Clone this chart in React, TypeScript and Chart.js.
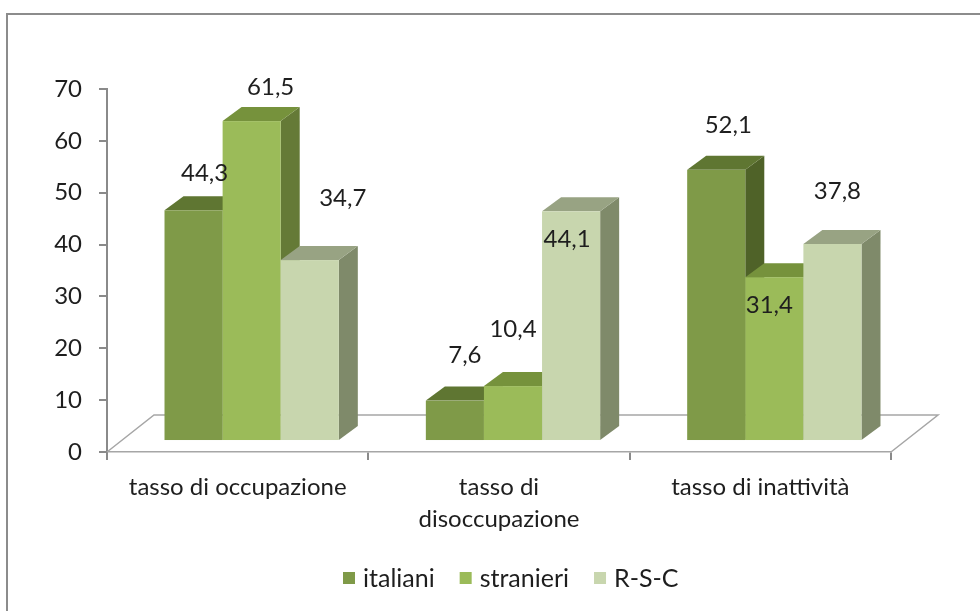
import React, { useEffect, useRef } from "react";
import { Chart, registerables } from "chart.js";

Chart.register(...registerables);

// ---- data ----
const categories: (string | string[])[] = [
  "tasso di occupazione",
  ["tasso di", "disoccupazione"],
  "tasso di inattività",
];
const seriesNames = ["italiani", "stranieri", "R-S-C"];
const italiani = [44.3, 7.6, 52.1];
const stranieri = [61.5, 10.4, 31.4];
const rsc = [34.7, 44.1, 37.8];
const yTickMin = 0;
const yTickMax = 70;
const yTickStep = 10;

// ---- style ----
const FONT = "Lato, 'Open Sans', sans-serif";
const FONT_SIZE = 24;
const LEGEND_FONT_SIZE = 25;
const TEXT = "#1e1e1e";
const AXIS = "#8a8a8a";
const frontColors = ["#7F9A48", "#9BBB59", "#C8D6AE"];
const topColors = ["#5F7632", "#76923C", "#98A383"];
const sideColors = ["#4F6228", "#657A37", "#7F8A6A"];
// label offsets (relative to bar front-face centre / top), per series per category
const labelOffsets = [
  [[11, -37], [10, -45], [12, -45]],
  [[19, -34], [0, -57], [-5, 28]],
  [[33, -62], [-4, 28], [5, -53]],
];
const DEPTH_X = 19;
const DEPTH_Y = 14;
const BAR_SHIFT_X = 14;
const FLOOR_DX = 47;
const FLOOR_DY = 37;

const fmt = (v: number) => v.toFixed(1).replace(".", ",");

const bars3d = {
  id: "bars3d",
  beforeDraw(chart: any) {
    const ctx = chart.ctx;
    ctx.save();
    ctx.strokeStyle = "#8c8c8c";
    ctx.lineWidth = 2;
    ctx.beginPath();
    ctx.moveTo(7, chart.height + 2);
    ctx.lineTo(7, 14);
    ctx.lineTo(chart.width + 2, 14);
    ctx.stroke();
    ctx.restore();
  },
  beforeDatasetsDraw(chart: any) {
    const ctx = chart.ctx;
    const a = chart.chartArea;
    // floor
    ctx.save();
    ctx.strokeStyle = "#a6a6a6";
    ctx.lineWidth = 1.5;
    ctx.beginPath();
    ctx.moveTo(a.left, a.bottom);
    ctx.lineTo(a.left + FLOOR_DX, a.bottom - FLOOR_DY);
    ctx.lineTo(a.right + FLOOR_DX, a.bottom - FLOOR_DY);
    ctx.lineTo(a.right, a.bottom);
    ctx.stroke();
    ctx.restore();

    const nCat = categories.length;
    const nSer = chart.data.datasets.length;
    for (let i = 0; i < nCat; i++) {
      for (let d = 0; d < nSer; d++) {
        const el = chart.getDatasetMeta(d).data[i];
        if (!el) continue;
        const w = el.width;
        const x0 = el.x - w / 2 + BAR_SHIFT_X;
        const x1 = el.x + w / 2 + BAR_SHIFT_X;
        const yt = el.y;
        const yb = el.base;
        ctx.save();
        // side
        ctx.fillStyle = sideColors[d];
        ctx.beginPath();
        ctx.moveTo(x1, yt);
        ctx.lineTo(x1 + DEPTH_X, yt - DEPTH_Y);
        ctx.lineTo(x1 + DEPTH_X, yb - DEPTH_Y);
        ctx.lineTo(x1, yb);
        ctx.closePath();
        ctx.fill();
        // top
        ctx.fillStyle = topColors[d];
        ctx.beginPath();
        ctx.moveTo(x0, yt);
        ctx.lineTo(x0 + DEPTH_X, yt - DEPTH_Y);
        ctx.lineTo(x1 + DEPTH_X, yt - DEPTH_Y);
        ctx.lineTo(x1, yt);
        ctx.closePath();
        ctx.fill();
        // front
        ctx.fillStyle = frontColors[d];
        ctx.fillRect(x0, yt, x1 - x0, yb - yt);
        ctx.restore();
      }
    }
    return false;
  },
  afterDraw(chart: any) {
    const ctx = chart.ctx;
    ctx.save();
    ctx.font = `${FONT_SIZE}px ${FONT}`;
    ctx.fillStyle = TEXT;
    ctx.textAlign = "center";
    ctx.textBaseline = "middle";
    chart.data.datasets.forEach((ds: any, d: number) => {
      const meta = chart.getDatasetMeta(d);
      meta.data.forEach((el: any, i: number) => {
        const off = labelOffsets[d][i];
        ctx.fillText(fmt(ds.data[i]), el.x + BAR_SHIFT_X + off[0], el.y + off[1]);
      });
    });
    // legend
    ctx.font = `${LEGEND_FONT_SIZE}px ${FONT}`;
    ctx.textAlign = "left";
    let x = 343;
    const y = 578;
    seriesNames.forEach((name, d) => {
      ctx.fillStyle = frontColors[d];
      ctx.fillRect(x, y - 6, 12, 12);
      ctx.fillStyle = TEXT;
      ctx.fillText(name, x + 20, y + 1);
      x += 20 + ctx.measureText(name).width + 25;
    });
    ctx.restore();
  },
};

export default function App() {
  const ref = useRef<HTMLCanvasElement | null>(null);
  useEffect(() => {
    if (!ref.current) return;
    const seriesData = [italiani, stranieri, rsc];
    const chart = new Chart(ref.current, {
      type: "bar",
      data: {
        labels: categories,
        datasets: seriesNames.map((name, d) => ({
          label: name,
          data: seriesData[d],
          backgroundColor: frontColors[d],
          borderWidth: 0,
          yAxisID: "y2",
          categoryPercentage: 0.667,
          barPercentage: 1,
        })),
      },
      options: {
        responsive: false,
        animation: false,
        devicePixelRatio: 1,
        layout: { padding: { left: 0, top: 89, right: 89, bottom: 0 } },
        plugins: { legend: { display: false }, tooltip: { enabled: false } },
        scales: {
          x: {
            type: "category",
            offset: true,
            grid: { offset: true, drawOnChartArea: false, tickLength: 8, color: AXIS, lineWidth: 2 },
            border: { display: true, color: "#a6a6a6", width: 1.5 },
            ticks: {
              font: { family: FONT, size: FONT_SIZE, lineHeight: 1.3 },
              color: TEXT,
              padding: 12,
              maxRotation: 0,
              autoSkip: false,
            },
            afterFit: (s: any) => { s.height = 611 - 452; },
          },
          y: {
            type: "linear",
            position: "left",
            min: yTickMin,
            max: yTickMax,
            ticks: { stepSize: yTickStep, font: { family: FONT, size: FONT_SIZE }, color: TEXT, padding: 17 },
            grid: { drawOnChartArea: false, tickLength: 8, color: AXIS, lineWidth: 2 },
            border: { display: true, color: AXIS, width: 2 },
            afterFit: (s: any) => { s.width = 107; },
          },
          y2: {
            type: "linear",
            display: false,
            min: -2.31,
            max: 67.69,
          },
        },
      },
      plugins: [bars3d],
    });
    return () => chart.destroy();
  }, []);
  return (
    <div style={{ position: "fixed", left: 0, top: 0, width: 980, height: 611, background: "#fff" }}>
      <canvas ref={ref} width={980} height={611} style={{ width: 980, height: 611, display: "block" }} />
    </div>
  );
}
